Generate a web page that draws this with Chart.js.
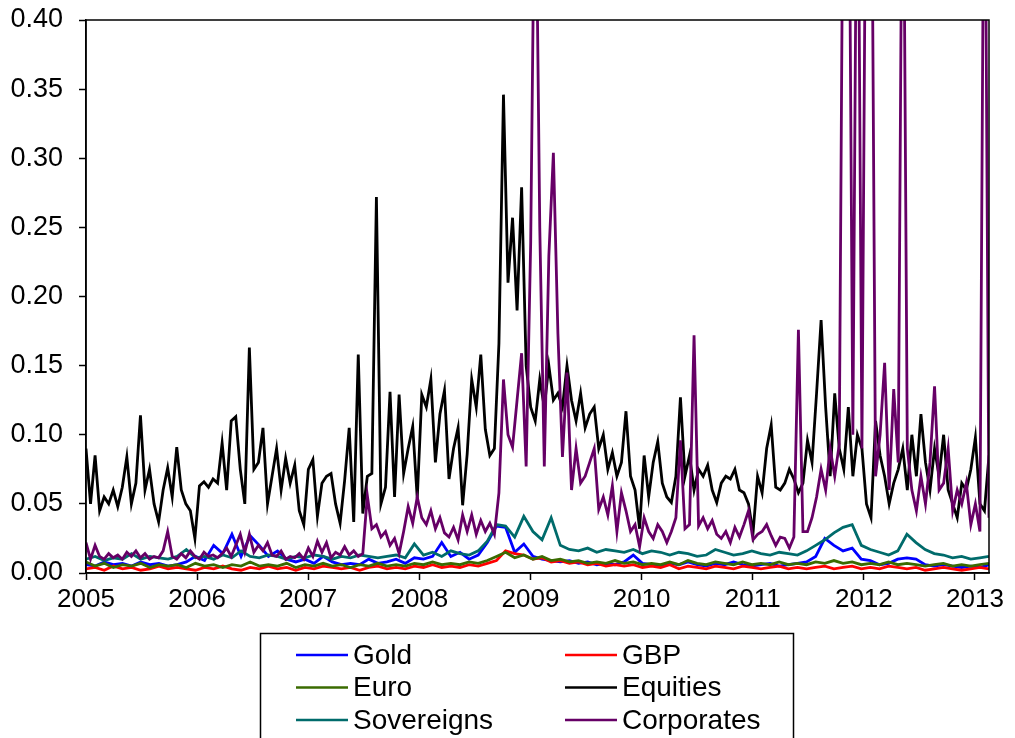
<!DOCTYPE html>
<html>
<head>
<meta charset="utf-8">
<script src="https://cdn.jsdelivr.net/npm/chart.js@4.4.1/dist/chart.umd.min.js"></script>
<style>
  html, body { margin: 0; padding: 0; background: #fff; }
  #wrap { width: 1015px; height: 738px; position: relative; }
</style>
</head>
<body>
<div id="wrap"><canvas id="volChart" width="1015" height="738"></canvas></div>
<script>
// x range (decimal years) and tick labels
const xStart = 2005;
const xEnd = 2013.126;
const yearTicks = [2005, 2006, 2007, 2008, 2009, 2010, 2011, 2012, 2013];
const yTicks = [0, 0.05, 0.10, 0.15, 0.20, 0.25, 0.30, 0.35, 0.40];

const seriesNames = ['Gold', 'GBP', 'Euro', 'Equities', 'Sovereigns', 'Corporates'];
const seriesColors = ['#0000ff', '#ff0000', '#3a6b00', '#000000', '#006b6b', '#660066'];

// fine series (about two weeks per point)
const equities = [
  0.09,0.05,0.085,0.045,0.055,0.05,0.06,0.048,0.062,0.084,
  0.05,0.065,0.114,0.06,0.075,0.05,0.037,0.06,0.076,0.055,
  0.091,0.06,0.05,0.045,0.025,0.063,0.066,0.062,0.068,0.065,
  0.094,0.06,0.11,0.113,0.075,0.05,0.163,0.075,0.08,0.105,
  0.05,0.07,0.09,0.06,0.083,0.065,0.078,0.045,0.035,0.075,
  0.082,0.041,0.065,0.07,0.072,0.05,0.036,0.067,0.105,0.037,
  0.158,0.043,0.07,0.072,0.272,0.05,0.062,0.131,0.055,0.129,
  0.072,0.09,0.106,0.054,0.129,0.12,0.14,0.08,0.115,0.132,
  0.068,0.09,0.105,0.049,0.086,0.14,0.12,0.158,0.104,0.085,
  0.09,0.166,0.346,0.21,0.257,0.19,0.279,0.15,0.12,0.11,
  0.14,0.12,0.15,0.125,0.13,0.12,0.15,0.125,0.11,0.13,
  0.105,0.115,0.12,0.09,0.1,0.075,0.087,0.07,0.08,0.117,
  0.07,0.06,0.032,0.085,0.055,0.08,0.095,0.065,0.055,0.051,
  0.07,0.127,0.07,0.085,0.06,0.075,0.07,0.078,0.06,0.051,
  0.065,0.07,0.068,0.075,0.06,0.058,0.05,0.029,0.07,0.058,
  0.09,0.107,0.062,0.06,0.065,0.075,0.068,0.058,0.065,0.096,
  0.08,0.13,0.183,0.12,0.07,0.13,0.09,0.075,0.12,0.07,
  0.1,0.09,0.05,0.04,0.11,0.085,0.07,0.05,0.065,0.075,
  0.09,0.06,0.1,0.07,0.115,0.08,0.06,0.09,0.07,0.1,
  0.06,0.05,0.04,0.065,0.06,0.075,0.098,0.05,0.045,0.085
];
const corporates = [
  0.022,0.01,0.02,0.012,0.01,0.014,0.011,0.013,0.01,0.015,
  0.012,0.016,0.011,0.014,0.01,0.012,0.011,0.016,0.03,0.012,
  0.01,0.014,0.011,0.016,0.012,0.01,0.015,0.012,0.013,0.011,
  0.014,0.018,0.012,0.02,0.028,0.015,0.028,0.015,0.02,0.016,
  0.022,0.013,0.012,0.016,0.01,0.012,0.011,0.014,0.01,0.018,
  0.012,0.023,0.015,0.022,0.011,0.015,0.013,0.019,0.013,0.016,
  0.012,0.014,0.056,0.032,0.035,0.026,0.03,0.02,0.025,0.014,
  0.03,0.048,0.036,0.055,0.04,0.035,0.045,0.032,0.04,0.029,
  0.026,0.033,0.024,0.042,0.03,0.042,0.028,0.038,0.03,0.036,
  0.028,0.058,0.14,0.1,0.091,0.125,0.159,0.077,0.239,0.55,
  0.25,0.077,0.229,0.304,0.173,0.084,0.145,0.06,0.09,0.065,
  0.07,0.08,0.09,0.046,0.055,0.042,0.063,0.03,0.058,0.045,
  0.03,0.035,0.019,0.04,0.03,0.025,0.035,0.03,0.022,0.03,
  0.04,0.096,0.032,0.035,0.172,0.034,0.04,0.032,0.038,0.028,
  0.025,0.03,0.022,0.033,0.026,0.035,0.045,0.024,0.028,0.03,
  0.035,0.027,0.02,0.026,0.025,0.018,0.026,0.176,0.03,0.03,
  0.04,0.055,0.075,0.06,0.09,0.07,0.093,0.6,0.6,0.1,
  0.6,0.09,0.6,0.6,0.07,0.1,0.152,0.06,0.133,0.08,
  0.6,0.09,0.06,0.045,0.07,0.05,0.08,0.135,0.06,0.065,
  0.09,0.045,0.06,0.05,0.065,0.035,0.05,0.03,0.6,0.04
];

// coarse series (about monthly)
const gold = [
  0.006,0.005,0.008,0.006,0.007,0.005,0.008,0.006,0.007,0.005,
  0.006,0.008,0.012,0.009,0.02,0.014,0.028,0.012,0.027,0.02,
  0.012,0.016,0.01,0.008,0.01,0.007,0.012,0.008,0.006,0.007,
  0.006,0.01,0.007,0.008,0.01,0.007,0.011,0.01,0.012,0.022,
  0.012,0.015,0.01,0.013,0.022,0.034,0.033,0.015,0.021,0.012,
  0.01,0.009,0.008,0.009,0.007,0.008,0.006,0.007,0.006,0.008,
  0.013,0.007,0.006,0.005,0.007,0.006,0.008,0.006,0.005,0.007,
  0.006,0.008,0.006,0.005,0.006,0.007,0.005,0.006,0.007,0.008,
  0.012,0.025,0.02,0.016,0.018,0.01,0.009,0.006,0.007,0.01,
  0.011,0.01,0.006,0.005,0.006,0.005,0.004,0.005,0.004,0.006
];
const gbp = [
  0.003,0.004,0.002,0.005,0.003,0.004,0.002,0.003,0.005,0.003,
  0.004,0.003,0.002,0.004,0.003,0.005,0.003,0.002,0.004,0.003,
  0.005,0.003,0.004,0.002,0.004,0.003,0.005,0.004,0.003,0.004,
  0.002,0.004,0.005,0.003,0.004,0.003,0.005,0.004,0.006,0.004,
  0.005,0.004,0.006,0.005,0.007,0.009,0.016,0.014,0.013,0.01,
  0.011,0.008,0.009,0.007,0.008,0.006,0.007,0.005,0.006,0.005,
  0.006,0.004,0.005,0.004,0.006,0.003,0.005,0.004,0.003,0.005,
  0.004,0.003,0.005,0.004,0.003,0.004,0.005,0.003,0.004,0.003,
  0.004,0.005,0.003,0.004,0.005,0.003,0.004,0.003,0.005,0.004,
  0.003,0.004,0.002,0.003,0.004,0.003,0.002,0.003,0.004,0.003
];
const euro = [
  0.008,0.005,0.007,0.004,0.006,0.005,0.007,0.004,0.006,0.005,
  0.006,0.004,0.007,0.005,0.006,0.004,0.006,0.005,0.008,0.005,
  0.006,0.005,0.007,0.004,0.006,0.005,0.007,0.005,0.006,0.004,
  0.006,0.005,0.007,0.005,0.006,0.005,0.007,0.006,0.008,0.006,
  0.007,0.006,0.008,0.007,0.009,0.012,0.015,0.011,0.013,0.01,
  0.012,0.009,0.01,0.008,0.009,0.007,0.008,0.007,0.009,0.007,
  0.008,0.006,0.007,0.006,0.008,0.006,0.009,0.007,0.006,0.008,
  0.007,0.006,0.008,0.006,0.007,0.006,0.008,0.006,0.007,0.006,
  0.008,0.007,0.009,0.007,0.008,0.006,0.007,0.006,0.008,0.006,
  0.007,0.006,0.005,0.006,0.007,0.005,0.006,0.005,0.006,0.007
];
const sovereigns = [
  0.01,0.012,0.009,0.011,0.01,0.014,0.01,0.012,0.011,0.01,
  0.012,0.017,0.011,0.012,0.01,0.013,0.011,0.016,0.012,0.011,
  0.013,0.012,0.01,0.012,0.011,0.013,0.012,0.01,0.012,0.011,
  0.013,0.012,0.011,0.012,0.013,0.011,0.021,0.013,0.015,0.012,
  0.016,0.014,0.013,0.016,0.023,0.035,0.034,0.026,0.041,0.03,
  0.024,0.04,0.02,0.017,0.016,0.018,0.015,0.017,0.016,0.015,
  0.017,0.014,0.016,0.015,0.013,0.015,0.014,0.012,0.013,0.017,
  0.015,0.013,0.014,0.016,0.014,0.013,0.015,0.014,0.013,0.016,
  0.02,0.024,0.029,0.033,0.035,0.02,0.017,0.015,0.013,0.016,
  0.028,0.022,0.017,0.014,0.013,0.011,0.012,0.01,0.011,0.012
];

// pair values with evenly spaced dates
function toPoints(values) {
  const step = (xEnd - xStart) / (values.length - 1);
  return values.map((v, i) => ({ x: xStart + i * step, y: v }));
}

const allValues = [gold, gbp, euro, equities, sovereigns, corporates];
const datasets = allValues.map((vals, i) => ({
  label: seriesNames[i],
  data: toPoints(vals),
  borderColor: seriesColors[i],
  backgroundColor: seriesColors[i],
  borderWidth: 2.8,
  pointRadius: 0,
  tension: 0,
  order: allValues.length - 1 - i
}));

const FONT = "'Liberation Sans', Arial, sans-serif";

// frame around plot + boxed legend
const framePlugin = {
  id: 'frameLegend',
  afterDraw(chart) {
    const ctx = chart.ctx;
    const a = chart.chartArea;
    ctx.save();
    ctx.strokeStyle = '#000';
    ctx.lineWidth = 1.5;
    ctx.strokeRect(a.left, a.top, a.right - a.left, a.bottom - a.top);

    ctx.lineWidth = 1.5;
    ctx.strokeRect(260.5, 633.5, 533, 120);

    ctx.font = '28px ' + FONT;
    ctx.textBaseline = 'middle';
    ctx.textAlign = 'left';
    chart.data.datasets.forEach((ds, i) => {
      const col = i % 2;
      const row = Math.floor(i / 2);
      const lx = col === 0 ? 296 : 565;
      const ly = 655 + row * 32.5;
      ctx.strokeStyle = ds.borderColor;
      ctx.lineWidth = 2.5;
      ctx.beginPath();
      ctx.moveTo(lx, ly);
      ctx.lineTo(lx + 52, ly);
      ctx.stroke();
      ctx.fillStyle = '#000';
      ctx.fillText(ds.label, lx + 57, ly + 1);
    });
    ctx.restore();
  }
};

new Chart(document.getElementById('volChart'), {
  type: 'line',
  data: { datasets: datasets },
  options: {
    responsive: false,
    animation: false,
    devicePixelRatio: 1,
    layout: { padding: { left: 0, right: 26, top: 20, bottom: 125 } },
    plugins: { legend: { display: false }, tooltip: { enabled: false } },
    scales: {
      x: {
        type: 'linear',
        min: xStart,
        max: xEnd,
        afterBuildTicks: s => { s.ticks = yearTicks.map(v => ({ value: v })); },
        afterFit: s => { s.height = 40; s.paddingLeft = 0; s.paddingRight = 0; },
        ticks: {
          color: '#000',
          font: { size: 26, family: FONT },
          padding: 4,
          maxRotation: 0,
          autoSkip: false,
          callback: v => String(v)
        },
        grid: { drawOnChartArea: false, drawTicks: true, tickLength: 7, tickColor: '#000', tickWidth: 1.5 },
        border: { color: '#000', width: 1.5 }
      },
      y: {
        min: 0,
        max: 0.4,
        afterBuildTicks: s => { s.ticks = yTicks.map(v => ({ value: v })); },
        afterFit: s => { s.width = 86; s.paddingTop = 0; s.paddingBottom = 0; },
        ticks: {
          color: '#000',
          font: { size: 27, family: FONT },
          padding: 16,
          callback: v => v.toFixed(2)
        },
        grid: { drawOnChartArea: false, drawTicks: true, tickLength: 7, tickColor: '#000', tickWidth: 1.5 },
        border: { color: '#000', width: 1.5 }
      }
    }
  },
  plugins: [framePlugin]
});
</script>
</body>
</html>
